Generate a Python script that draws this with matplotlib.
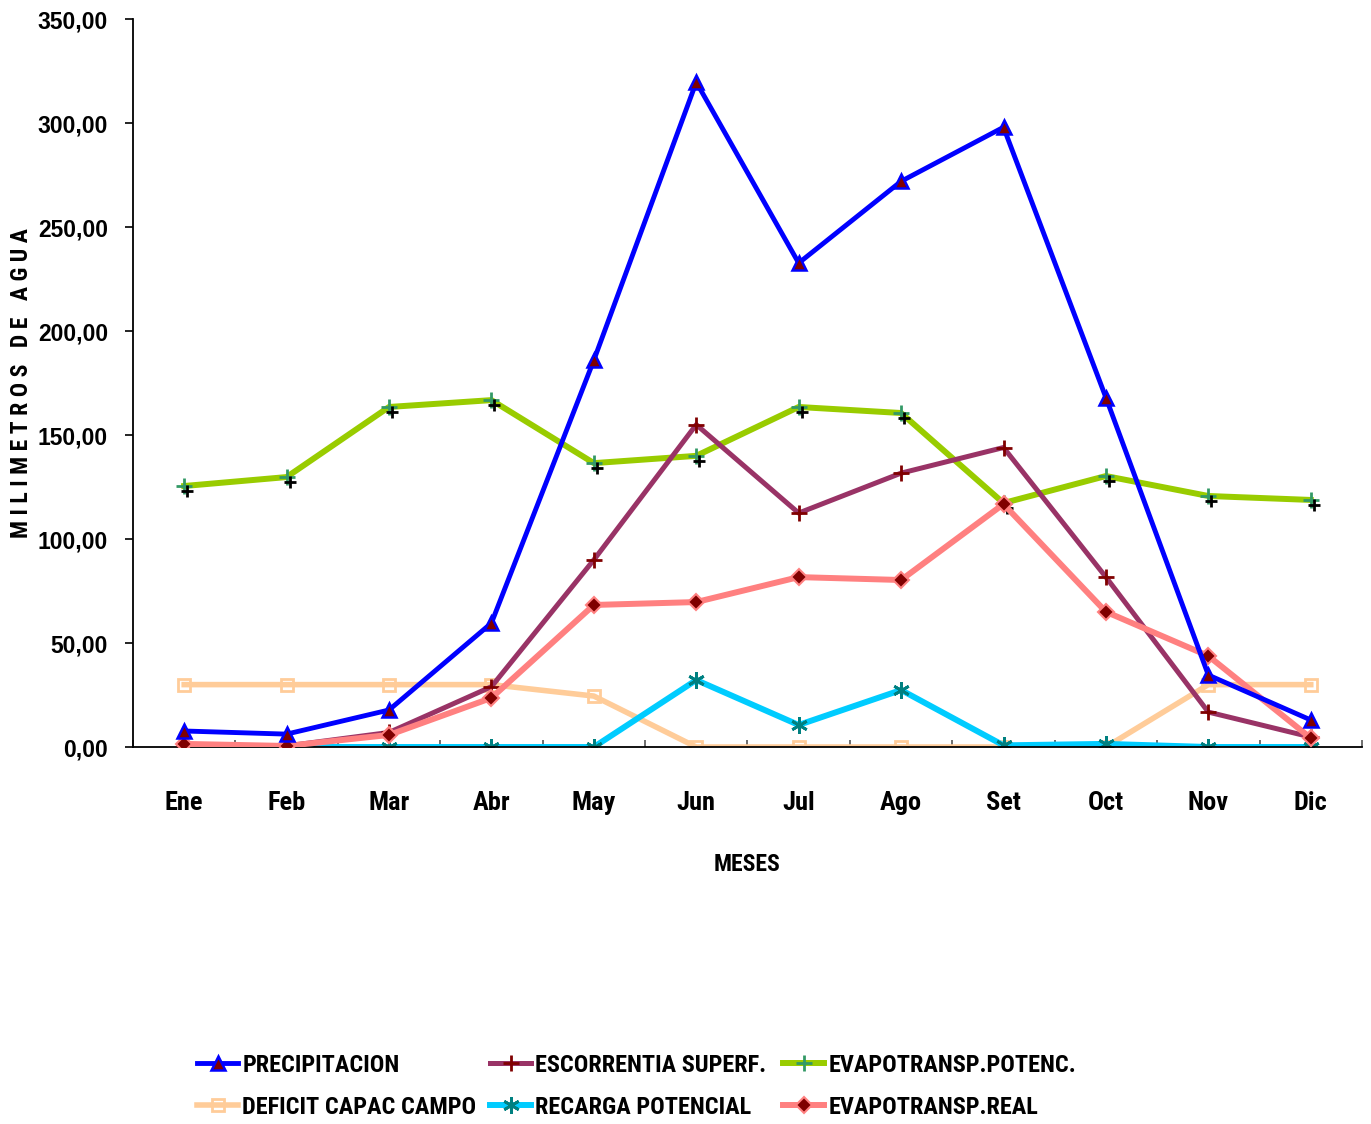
import matplotlib
matplotlib.use("Agg")
import matplotlib.pyplot as plt
from matplotlib.ticker import FixedLocator, FuncFormatter
from matplotlib.transforms import offset_copy
import numpy as np

meses = ["Ene", "Feb", "Mar", "Abr", "May", "Jun", "Jul", "Ago", "Set", "Oct", "Nov", "Dic"]

precipitacion = [7.7, 6.2, 17.8, 59.6, 186.0, 319.7, 232.7, 272.0, 298.0, 168.0, 34.6, 13.0]
escorrentia = [1.0, 0.5, 7.0, 29.0, 90.0, 155.0, 112.5, 131.7, 144.0, 81.7, 16.8, 4.8]
evapot_potenc = [125.5, 129.8, 163.5, 166.8, 136.5, 140.0, 163.5, 160.6, 117.3, 130.3, 120.7, 118.8]
deficit_campo = [30.0, 30.0, 30.0, 30.0, 24.5, 0.0, 0.0, 0.0, 0.0, 0.0, 30.0, 30.0]
recarga = [0.0, 0.0, 0.0, 0.0, 0.0, 32.2, 10.6, 27.4, 0.8, 1.5, 0.0, 0.0]
evapot_real = [1.5, 0.5, 5.8, 23.6, 68.3, 69.7, 81.7, 80.3, 116.8, 65.0, 43.8, 4.3]

narrow = ["Roboto Condensed", "DejaVu Sans"]
heavy = ["Liberation Sans", "DejaVu Sans"]

fig = plt.figure(figsize=(13.71, 11.24), dpi=100)
ax = fig.add_axes([0.097, 0.3354, 0.8964, 0.6476])

x = np.arange(len(meses)) + 0.5

l_pre, = ax.plot(x, precipitacion, color="#0000FF", lw=3.5, marker="^", ms=9.5,
                 mfc="#800000", mec="#0000FF", mew=1.8, label="PRECIPITACION", zorder=5)
l_esc, = ax.plot(x, escorrentia, color="#993366", lw=3.6, marker="+", ms=11,
                 mec="#800000", mew=2, label="ESCORRENTIA SUPERF.", zorder=4)
l_pot, = ax.plot(x, evapot_potenc, color="#99CC00", lw=4.3, marker="+", ms=11,
                 mec="#339966", mew=2, label="EVAPOTRANSP.POTENC.", zorder=3)
# shadow crosses drawn slightly below-right of the potential ET markers
shadow = offset_copy(ax.transData, fig=fig, x=3, y=-5, units="dots")
ax.plot(x, evapot_potenc, ls="none", marker="+", ms=9, mec="black", mew=2,
        transform=shadow, zorder=3)
l_def, = ax.plot(x, deficit_campo, color="#FFCC99", lw=4.0, marker="s", ms=8,
                 mfc="none", mec="#FFCC99", mew=2, label="DEFICIT CAPAC CAMPO", zorder=2)
l_rec, = ax.plot(x, recarga, color="#00CCFF", lw=4.3, marker=(6, 2, 0), ms=12,
                 mec="#008080", mew=2, label="RECARGA POTENCIAL", zorder=2)
l_rea, = ax.plot(x, evapot_real, color="#FF8080", lw=4.3, marker="D", ms=8,
                 mfc="#800000", mec="#FF8080", mew=1.5, label="EVAPOTRANSP.REAL", zorder=4)

ax.set_xlim(0, len(meses))
ax.set_ylim(0, 350)

for side in ("top", "right"):
    ax.spines[side].set_visible(False)
for side in ("left", "bottom"):
    ax.spines[side].set_linewidth(1.3)
    ax.spines[side].set_color("black")

# month boundaries carry the tick marks, month centres carry the labels
ax.xaxis.set_major_locator(FixedLocator(np.arange(0, len(meses) + 1)))
ax.xaxis.set_minor_locator(FixedLocator(x))
ax.set_xticklabels([], minor=False)
ax.set_xticklabels(meses, minor=True)
ax.tick_params(axis="x", which="major", direction="in", length=5, width=1.2, color="#555555")
ax.tick_params(axis="x", which="minor", length=0, pad=32)
for t in ax.get_xticklabels(minor=True):
    t.set_fontfamily(narrow)
    t.set_fontweight("bold")
    t.set_fontsize(19)

ax.set_yticks(np.arange(0, 351, 50))
ax.yaxis.set_major_formatter(FuncFormatter(lambda v, p: f"{v:.2f}".replace(".", ",")))
ax.tick_params(axis="y", direction="out", length=6, width=1.2, pad=12)
for t in ax.get_yticklabels():
    t.set_fontfamily(heavy)
    t.set_fontweight("bold")
    t.set_fontsize(16.5)

ax.set_xlabel("MESES", fontfamily=narrow, fontweight="bold", fontsize=17, labelpad=27)
ax.set_ylabel("M I L I M E T R O S   D E   A G U A", fontfamily=narrow, fontweight="bold",
              fontsize=17, labelpad=3)

# three legend columns, each anchored at its own left edge
columns = [((l_pre, l_def), 0.1437), ((l_esc, l_rec), 0.3574), ((l_pot, l_rea), 0.5711)]
for hs, x0 in columns:
    fig.legend(handles=list(hs), labels=[h.get_label() for h in hs], ncol=1,
               loc="upper left", bbox_to_anchor=(x0, 0.0623), frameon=False,
               prop={"family": narrow, "weight": "bold", "size": 17.5},
               handlelength=1.7, handletextpad=0.17, labelspacing=0.78,
               borderpad=0.0, borderaxespad=0.0)

fig.savefig("out.png", dpi=100, facecolor="white")
